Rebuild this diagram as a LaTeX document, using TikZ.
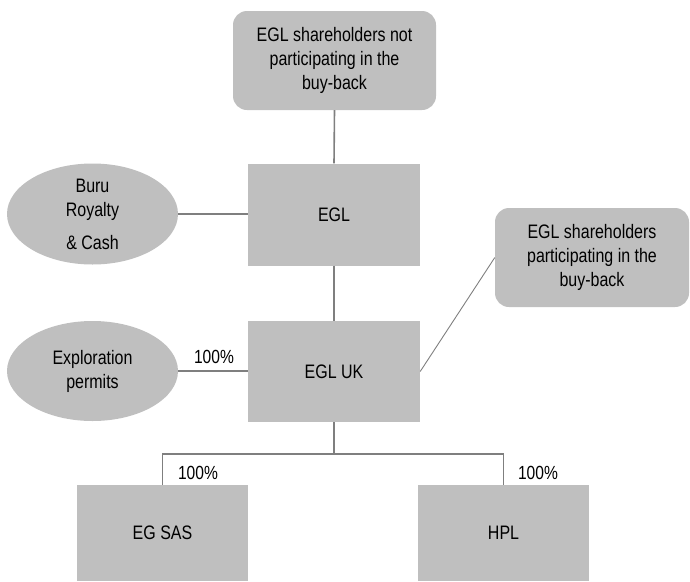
\documentclass[tikz,border=0pt]{standalone}
\usepackage{fontspec}
\setmainfont{Liberation Sans}[FakeStretch=0.82]
\usetikzlibrary{shapes.geometric,positioning}
\definecolor{boxgray}{HTML}{BFBFBF}
\definecolor{linegray}{HTML}{7F7F7F}

\begin{document}
\begin{tikzpicture}[x=1pt, y=-1pt,
  every node/.style={font=\fontsize{19.5}{24}\selectfont, text=black},
  holder/.style={fill=boxgray, rounded corners=14pt, minimum width=203pt,
                 minimum height=99pt, align=center, inner sep=0pt},
  ent/.style={fill=boxgray, minimum width=172pt, minimum height=102pt,
              align=center},
  asset/.style={ellipse, fill=boxgray, minimum width=171pt,
                minimum height=101pt, align=center, inner sep=0pt},
  link/.style={draw=linegray, line width=1.6pt},
  pct/.style={font=\fontsize{19}{22}\selectfont}
]
\useasboundingbox (0,0) rectangle (690,581);

%% shareholders
\node[holder] (nonpart) at (334.5, 60.5)
  {EGL shareholders not\\participating in the\\buy-back};
\node[holder, minimum width=194pt] (part) at (592, 257.5)
  {EGL shareholders\\participating in the\\buy-back};

%% companies
\node[ent] (egl)   at (334, 214.5) {EGL};
\node[ent, minimum height=101pt] (egluk) at (334, 371.5) {EGL UK};
\node[ent, minimum width=171pt, minimum height=96pt] (egsas) at (162.5, 533) {EG SAS};
\node[ent, minimum width=171pt, minimum height=96pt] (hpl)   at (503.5, 533) {HPL};

%% assets
\node[asset] (buru) at (92.5, 214) {Buru\\Royalty\\[9pt]\& Cash};
\node[asset, minimum height=100pt] (expl) at (92.5, 371) {Exploration\\permits};

%% links
\draw[link] (nonpart.south) -- (egl.north);
\draw[link] (egl.south) -- (egluk.north);
\draw[link] (buru.east) -- (buru.east -| egl.west);
\draw[link] (expl.east) -- (expl.east -| egluk.west);
\draw[draw=linegray, line width=0.9pt] (egluk.east) -- (part.west);

\draw[link] (egluk.south) -- ++(0,32) coordinate (fork);
\draw[link] (fork) -| (egsas.north);
\draw[link] (fork) -| (hpl.north);

%% holdings
\node[pct] (pexpl)  at (214, 357) {100\%};
\node[pct] (pegsas) at (198, 473) {100\%};
\node[pct] (phpl)   at (538, 473) {100\%};

\end{tikzpicture}
\end{document}
